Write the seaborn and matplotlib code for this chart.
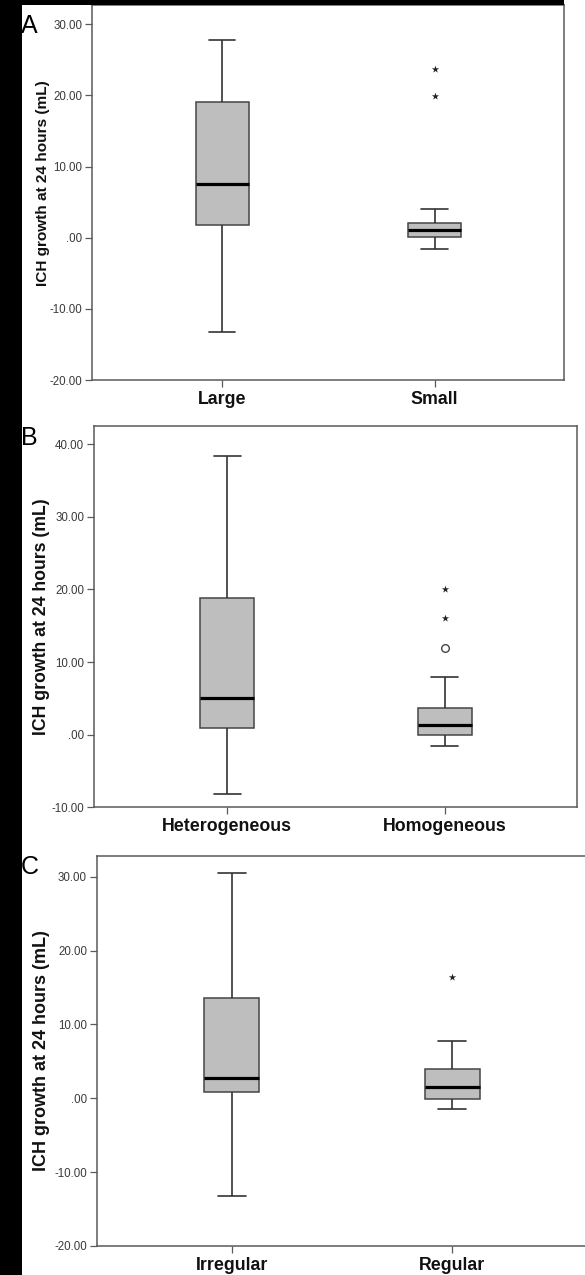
import numpy as np
import pandas as pd
import matplotlib
matplotlib.use("Agg")
import matplotlib.pyplot as plt
from matplotlib.patches import Rectangle
from matplotlib.ticker import FuncFormatter, MultipleLocator
import seaborn as sns

# ---- data: five-number summaries [lower whisker, Q1, median, Q3, upper whisker] ----
size_groups = ["Large", "Small"]
large_box = [-13.3, 1.8, 7.5, 19.0, 27.8]
small_box = [-1.6, 0.1, 1.1, 2.1, 4.0]
small_extremes = [19.9, 23.7]

density_groups = ["Heterogeneous", "Homogeneous"]
hetero_box = [-8.1, 0.9, 5.1, 18.8, 38.4]
homo_box = [-1.6, 0.0, 1.3, 3.7, 8.0]
homo_outliers = [11.9]
homo_extremes = [16.1, 20.0]

shape_groups = ["Irregular", "Regular"]
irregular_box = [-13.2, 0.9, 2.8, 13.6, 30.5]
regular_box = [-1.5, -0.1, 1.5, 4.0, 7.8]
regular_extremes = [16.4]

y_label = "ICH growth at 24 hours (mL)"

sns.set_style("ticks")
plt.rcParams["font.family"] = ["Liberation Sans", "DejaVu Sans"]

W, H = 585, 1275
fig = plt.figure(figsize=(W / 100, H / 100), dpi=100)
fig.patch.set_facecolor("white")


def px_axes(left, top, right, bottom):
    return fig.add_axes([left / W, 1 - bottom / H, (right - left) / W, (bottom - top) / H])


def spss_fmt(v, _pos):
    s = f"{v:.2f}"
    if s in ("0.00", "-0.00"):
        return ".00"
    return s


def panel(ax, groups, boxes, outliers, extremes, ylim, ystep, label_size, label_xy):
    df = pd.DataFrame({
        "group": np.repeat(groups, 5),
        "growth": np.concatenate(boxes),
    })
    sns.boxplot(
        data=df, x="group", y="growth", order=groups, ax=ax,
        width=0.25, whis=(0, 100), showfliers=False, saturation=1,
        color="#bebebe", linecolor="#454545", linewidth=1.1,
        medianprops=dict(color="black", linewidth=2.3),
        whiskerprops=dict(color="#333333", linewidth=1.2),
        capprops=dict(color="#333333", linewidth=1.2),
    )
    for grp, vals in outliers:
        sns.stripplot(x=[grp] * len(vals), y=vals, order=groups, ax=ax,
                      jitter=False, marker="o", size=5.5, color="white",
                      edgecolor="#444444", linewidth=1.0, zorder=5)
    for grp, vals in extremes:
        sns.stripplot(x=[grp] * len(vals), y=vals, order=groups, ax=ax,
                      jitter=False, marker="*", size=5.5, color="#222222",
                      linewidth=0, zorder=5)

    ax.set_xlim(-0.613, 1.607)
    ax.set_ylim(*ylim)
    ax.yaxis.set_major_locator(MultipleLocator(ystep))
    ax.yaxis.set_major_formatter(FuncFormatter(spss_fmt))
    ax.set_xlabel("")
    ax.set_ylabel(y_label, fontsize=label_size, fontweight="bold", color="#111111")
    ax.yaxis.set_label_coords(*label_xy)
    for side in ("left", "right", "top", "bottom"):
        ax.spines[side].set_visible(True)
        ax.spines[side].set_color("#5a5a5a")
        ax.spines[side].set_linewidth(1.1)
    ax.tick_params(axis="y", direction="out", length=5, width=0.9, color="#5a5a5a",
                   labelsize=8.3, labelcolor="#3a3a3a", pad=2)
    ax.tick_params(axis="x", direction="out", length=5, width=0.9, color="#5a5a5a",
                   labelsize=12.8, labelcolor="#111111", pad=3)
    for t in ax.get_xticklabels():
        t.set_fontweight("bold")
    ax.grid(False)


ax_a = px_axes(92, 5, 563.5, 380)
panel(ax_a, size_groups, [large_box, small_box], [],
      [("Small", small_extremes)], (-20, 32.7), 10, 11.1, (-0.089, 0.524))

ax_b = px_axes(94, 425.7, 576.7, 807.3)
panel(ax_b, density_groups, [hetero_box, homo_box], [("Homogeneous", homo_outliers)],
      [("Homogeneous", homo_extremes)], (-10, 42.55), 10, 12.7, (-0.091, 0.5))

ax_c = px_axes(96.7, 856, 586, 1246)
panel(ax_c, shape_groups, [irregular_box, regular_box], [],
      [("Regular", regular_extremes)], (-20, 32.8), 10, 13.0, (-0.095, 0.5))

# dark frame strips along the left and top edges
fig.add_artist(Rectangle((0, 0), 22 / W, 1, transform=fig.transFigure,
                         facecolor="black", edgecolor="none", zorder=20))
fig.add_artist(Rectangle((0, 1 - 5 / H), 564 / W, 5 / H, transform=fig.transFigure,
                         facecolor="black", edgecolor="none", zorder=20))

# panel letters
for letter, base in (("A", 33), ("B", 445), ("C", 874)):
    fig.text(21 / W, 1 - base / H, letter, fontsize=18, ha="left", va="baseline",
             color="black", zorder=30)

fig.savefig("out.png", dpi=100, facecolor="white")
